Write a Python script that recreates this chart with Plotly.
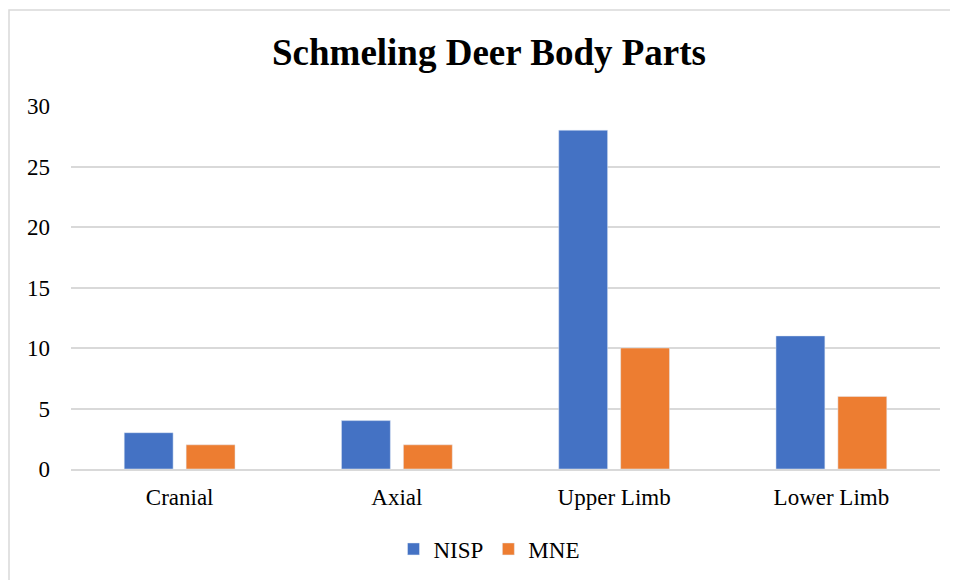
import plotly.graph_objects as go

categories = ["Cranial", "Axial", "Upper Limb", "Lower Limb"]
nisp = [3, 4, 28, 11]
mne = [2, 2, 10, 6]

font = "Liberation Serif, Times New Roman, serif"

# the page body adds an 8px offset, so layout numbers are shifted by 8
W, H = 958, 580
L, T = 63, 98
R, B = W - 932, H - 461
pw, ph = W - L - R, H - T - B

fig = go.Figure()
fig.add_trace(go.Bar(x=categories, y=nisp, name="NISP", marker_color="#4472C4"))
fig.add_trace(go.Bar(x=categories, y=mne, name="MNE", marker_color="#ED7D31"))

fig.update_layout(
    width=W, height=H,
    margin=dict(l=L, r=R, t=T, b=B),
    paper_bgcolor="white", plot_bgcolor="white",
    font=dict(family=font, size=23, color="black"),
    title=dict(text="<b>Schmeling Deer Body Parts</b>", x=481 / W, xref="container",
               xanchor="center", y=1 - 44 / H, yanchor="middle",
               font=dict(size=37, family=font, color="black")),
    barmode="group", bargap=0.43, bargroupgap=0.21,
    legend=dict(orientation="h", xref="container", x=481 / W, xanchor="center",
                yref="container", y=1 - 541 / H, yanchor="middle",
                font=dict(size=23, family=font, color="black")),
    showlegend=True,
)
fig.update_yaxes(range=[0, 30], dtick=5, showgrid=True, gridcolor="#D9D9D9",
                 gridwidth=1.5, zeroline=False, showline=False,
                 ticklabelstandoff=20)
fig.update_xaxes(showline=True, linecolor="#D9D9D9", linewidth=1.5,
                 ticks="", ticklabelstandoff=7)

fig.add_shape(type="rect", xref="paper", yref="paper",
              x0=(1 - L) / pw, x1=(W + 20 - L) / pw,
              y0=-(H + 20 - T - ph) / ph, y1=(T + ph - 2) / ph,
              line=dict(color="#D9D9D9", width=1.5), layer="below")

fig.write_html("out.html")
